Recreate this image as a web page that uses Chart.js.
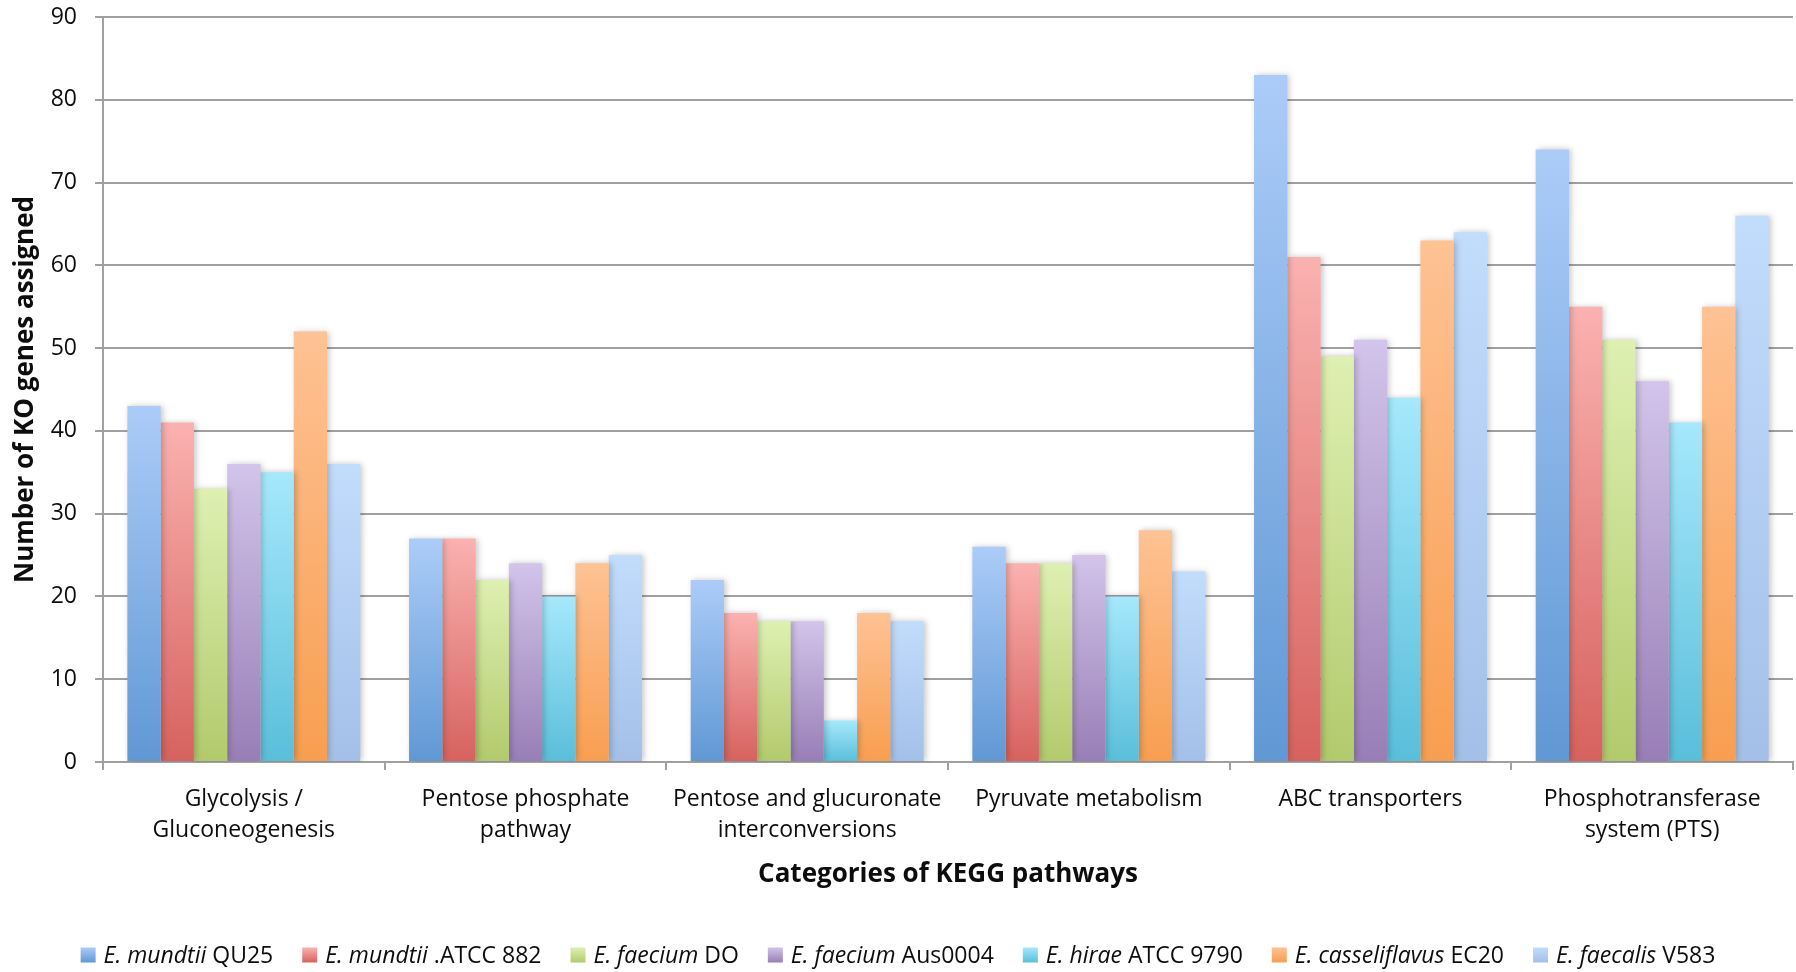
<!DOCTYPE html>
<html>
<head>
<meta charset="utf-8">
<script src="https://cdn.jsdelivr.net/npm/chart.js@4.4.1/dist/chart.umd.min.js"></script>
<style>
  html, body { margin: 0; padding: 0; background: #ffffff; }
  canvas { display: block; }
</style>
</head>
<body>
<canvas id="chart" width="1796" height="972"></canvas>
<script>
// KEGG pathway categories (multi-line tick labels)
const categories = [
  ['Glycolysis /', 'Gluconeogenesis'],
  ['Pentose phosphate', 'pathway'],
  ['Pentose and glucuronate', 'interconversions'],
  ['Pyruvate metabolism'],
  ['ABC transporters'],
  ['Phosphotransferase', 'system (PTS)']
];

// Strains: italic species name + regular strain designation
const species = ['E. mundtii', 'E. mundtii', 'E. faecium', 'E. faecium', 'E. hirae', 'E. casseliflavus', 'E. faecalis'];
const strains = ['QU25', '.ATCC 882', 'DO', 'Aus0004', 'ATCC 9790', 'EC20', 'V583'];

// Number of KO genes assigned, one array per strain
const mundtiiQU25       = [43, 27, 22, 26, 83, 74];
const mundtiiATCC882    = [41, 27, 18, 24, 61, 55];
const faeciumDO         = [33, 22, 17, 24, 49, 51];
const faeciumAus0004    = [36, 24, 17, 25, 51, 46];
const hiraeATCC9790     = [35, 20, 5, 20, 44, 41];
const casseliflavusEC20 = [52, 24, 18, 28, 63, 55];
const faecalisV583      = [36, 25, 17, 23, 64, 66];

const seriesValues = [mundtiiQU25, mundtiiATCC882, faeciumDO, faeciumAus0004, hiraeATCC9790, casseliflavusEC20, faecalisV583];

// Y axis ticks
const yTicks = [0, 10, 20, 30, 40, 50, 60, 70, 80, 90];

// Bar fills: light at the top, darker at the base
const gradientStops = [
  ['#acccf8', '#6098d4'],
  ['#fab2b0', '#d6625e'],
  ['#def0b2', '#b2ca6c'],
  ['#d2c4ea', '#987eb6'],
  ['#a6e8fc', '#5abeda'],
  ['#fec294', '#f89e50'],
  ['#c2dcfc', '#a4c0e8']
];

const FONT = "'Open Sans', 'Noto Sans', sans-serif";
const GRID = '#a0a0a0';
const INK = '#0d0d0d';

function barFill(i) {
  return (ctx) => {
    const chart = ctx.chart;
    const y = chart.scales && chart.scales.y;
    if (!y || ctx.type !== 'data' || !chart.chartArea) return gradientStops[i][1];
    const top = y.getPixelForValue(ctx.raw);
    const base = y.getPixelForValue(0);
    if (!isFinite(top) || !isFinite(base) || top === base) return gradientStops[i][1];
    const g = chart.ctx.createLinearGradient(0, top, 0, base);
    g.addColorStop(0, gradientStops[i][0]);
    g.addColorStop(1, gradientStops[i][1]);
    return g;
  };
}

const datasets = seriesValues.map((vals, i) => ({
  label: species[i] + ' ' + strains[i],
  data: vals,
  backgroundColor: barFill(i),
  borderWidth: 0,
  categoryPercentage: 0.827,
  barPercentage: 1.0
}));

// Soft drop shadow behind the bars
const barShadow = {
  id: 'barShadow',
  beforeDatasetsDraw(chart) {
    const c = chart.ctx;
    c.save();
    c.shadowColor = 'rgba(0,0,0,0.22)';
    c.shadowBlur = 6;
    c.shadowOffsetX = 2;
    c.shadowOffsetY = 0;
  },
  afterDatasetsDraw(chart) {
    chart.ctx.restore();
  }
};

// Bottom legend with italic species names
const strainLegend = {
  id: 'strainLegend',
  afterDraw(chart) {
    const c = chart.ctx;
    const size = 23;
    const italicFont = 'italic ' + size + 'px ' + FONT;
    const normalFont = size + 'px ' + FONT;
    const box = 15, boxGap = 8, itemGap = 29;
    const cy = 955;
    c.save();
    const items = species.map((sp, i) => {
      c.font = italicFont;
      const w1 = c.measureText(sp).width;
      c.font = normalFont;
      const sw = c.measureText(' ').width;
      const w2 = c.measureText(strains[i]).width;
      return { sp, st: strains[i], w1, sw, w2, total: box + boxGap + w1 + sw + w2 };
    });
    const totalW = items.reduce((a, it) => a + it.total, 0) + itemGap * (items.length - 1);
    let x = chart.width / 2 - totalW / 2;
    c.textBaseline = 'middle';
    c.textAlign = 'left';
    items.forEach((it, i) => {
      const g = c.createLinearGradient(0, cy - box / 2, 0, cy + box / 2);
      g.addColorStop(0, gradientStops[i][0]);
      g.addColorStop(1, gradientStops[i][1]);
      c.fillStyle = g;
      c.fillRect(x, cy - box / 2, box, box);
      let tx = x + box + boxGap;
      c.fillStyle = INK;
      c.font = italicFont;
      c.fillText(it.sp, tx, cy + 1);
      tx += it.w1 + it.sw;
      c.font = normalFont;
      c.fillText(it.st, tx, cy + 1);
      x += it.total + itemGap;
    });
    c.restore();
  }
};

new Chart(document.getElementById('chart'), {
  type: 'bar',
  data: { labels: categories, datasets },
  plugins: [barShadow, strainLegend],
  options: {
    responsive: false,
    animation: false,
    devicePixelRatio: 1,
    layout: { padding: { top: 17, right: 3, bottom: 60, left: 0 } },
    plugins: {
      legend: { display: false },
      tooltip: { enabled: false }
    },
    scales: {
      x: {
        type: 'category',
        offset: true,
        grid: {
          offset: true,
          drawOnChartArea: false,
          drawTicks: true,
          tickLength: 8,
          color: GRID,
          lineWidth: 2
        },
        border: { display: true, color: GRID, width: 2 },
        ticks: {
          color: INK,
          font: { family: FONT, size: 23, lineHeight: 1.35 },
          padding: 14,
          maxRotation: 0,
          autoSkip: false
        },
        title: {
          display: true,
          text: 'Categories of KEGG pathways',
          color: INK,
          font: { family: FONT, size: 26, weight: 'bold', lineHeight: 1.2 },
          padding: { top: 0, bottom: 22 }
        },
        afterFit(scale) { scale.height = 150; }
      },
      y: {
        min: 0,
        max: 90,
        afterBuildTicks(scale) { scale.ticks = yTicks.map(v => ({ value: v })); },
        grid: {
          color: GRID,
          lineWidth: 2,
          tickLength: 8
        },
        border: { display: true, color: GRID, width: 2 },
        ticks: {
          color: INK,
          font: { family: FONT, size: 23 },
          padding: 18
        },
        title: {
          display: true,
          text: 'Number of KO genes assigned',
          color: INK,
          font: { family: FONT, size: 26, weight: 'bold', lineHeight: 1.2 },
          padding: { top: 10, bottom: 0 }
        },
        afterFit(scale) {
          scale.width = 103;
          scale.paddingTop = 0;
          scale.paddingBottom = 0;
        }
      }
    }
  }
});
</script>
</body>
</html>
